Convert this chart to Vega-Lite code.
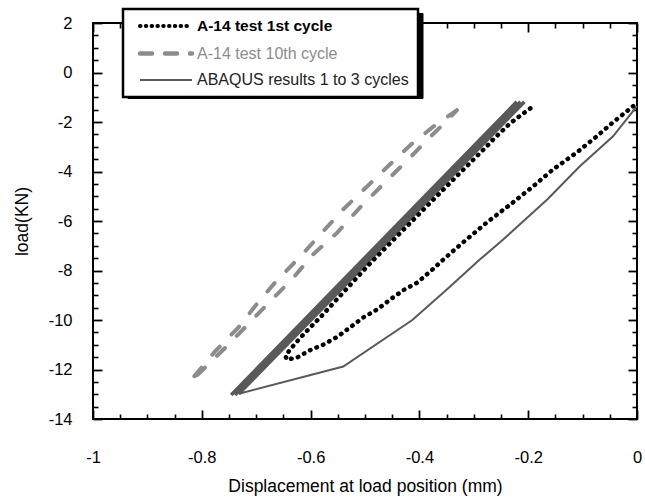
{
  "$schema": "https://vega.github.io/schema/vega-lite/v6.json",
  "width": 544,
  "height": 396,
  "autosize": "none",
  "padding": {"left": 93, "top": 23, "right": 8, "bottom": 84},
  "background": "white",
  "config": {
    "view": {"stroke": "black", "strokeWidth": 2},
    "font": "Liberation Sans",
    "axis": {"grid": false, "domain": false, "tickColor": "black", "labelColor": "black", "titleColor": "black", "labelFont": "Liberation Sans", "titleFont": "Liberation Sans", "titleFontWeight": "normal", "labelFlush": false, "labelOverlap": false}
  },
  "data": {"values": [
    {"part": "t1", "series": "A-14 test 1st cycle", "line": "t1", "order": 1, "x": -0.196, "y": -1.45},
    {"part": "t1", "series": "A-14 test 1st cycle", "line": "t1", "order": 2, "x": -0.215, "y": -1.75},
    {"part": "t1", "series": "A-14 test 1st cycle", "line": "t1", "order": 3, "x": -0.233, "y": -2.05},
    {"part": "t1", "series": "A-14 test 1st cycle", "line": "t1", "order": 4, "x": -0.265, "y": -2.72},
    {"part": "t1", "series": "A-14 test 1st cycle", "line": "t1", "order": 5, "x": -0.276, "y": -2.98},
    {"part": "t1", "series": "A-14 test 1st cycle", "line": "t1", "order": 6, "x": -0.35, "y": -4.6},
    {"part": "t1", "series": "A-14 test 1st cycle", "line": "t1", "order": 7, "x": -0.42, "y": -6.15},
    {"part": "t1", "series": "A-14 test 1st cycle", "line": "t1", "order": 8, "x": -0.49, "y": -7.7},
    {"part": "t1", "series": "A-14 test 1st cycle", "line": "t1", "order": 9, "x": -0.564, "y": -9.46},
    {"part": "t1", "series": "A-14 test 1st cycle", "line": "t1", "order": 10, "x": -0.583, "y": -9.91},
    {"part": "t1", "series": "A-14 test 1st cycle", "line": "t1", "order": 11, "x": -0.601, "y": -10.31},
    {"part": "t1", "series": "A-14 test 1st cycle", "line": "t1", "order": 12, "x": -0.619, "y": -10.72},
    {"part": "t1", "series": "A-14 test 1st cycle", "line": "t1", "order": 13, "x": -0.638, "y": -11.2},
    {"part": "t1", "series": "A-14 test 1st cycle", "line": "t1", "order": 14, "x": -0.646, "y": -11.45},
    {"part": "t1", "series": "A-14 test 1st cycle", "line": "t1", "order": 15, "x": -0.644, "y": -11.6},
    {"part": "t1", "series": "A-14 test 1st cycle", "line": "t1", "order": 16, "x": -0.625, "y": -11.52},
    {"part": "t1", "series": "A-14 test 1st cycle", "line": "t1", "order": 17, "x": -0.601, "y": -11.22},
    {"part": "t1", "series": "A-14 test 1st cycle", "line": "t1", "order": 18, "x": -0.577, "y": -11.0},
    {"part": "t1", "series": "A-14 test 1st cycle", "line": "t1", "order": 19, "x": -0.551, "y": -10.68},
    {"part": "t1", "series": "A-14 test 1st cycle", "line": "t1", "order": 20, "x": -0.528, "y": -10.31},
    {"part": "t1", "series": "A-14 test 1st cycle", "line": "t1", "order": 21, "x": -0.504, "y": -9.91},
    {"part": "t1", "series": "A-14 test 1st cycle", "line": "t1", "order": 22, "x": -0.478, "y": -9.58},
    {"part": "t1", "series": "A-14 test 1st cycle", "line": "t1", "order": 23, "x": -0.454, "y": -9.18},
    {"part": "t1", "series": "A-14 test 1st cycle", "line": "t1", "order": 24, "x": -0.43, "y": -8.8},
    {"part": "t1", "series": "A-14 test 1st cycle", "line": "t1", "order": 25, "x": -0.404, "y": -8.49},
    {"part": "t1", "series": "A-14 test 1st cycle", "line": "t1", "order": 26, "x": -0.378, "y": -8.0},
    {"part": "t1", "series": "A-14 test 1st cycle", "line": "t1", "order": 27, "x": -0.35, "y": -7.44},
    {"part": "t1", "series": "A-14 test 1st cycle", "line": "t1", "order": 28, "x": -0.32, "y": -6.87},
    {"part": "t1", "series": "A-14 test 1st cycle", "line": "t1", "order": 29, "x": -0.276, "y": -6.06},
    {"part": "t1", "series": "A-14 test 1st cycle", "line": "t1", "order": 30, "x": -0.228, "y": -5.25},
    {"part": "t1", "series": "A-14 test 1st cycle", "line": "t1", "order": 31, "x": -0.191, "y": -4.6},
    {"part": "t1", "series": "A-14 test 1st cycle", "line": "t1", "order": 32, "x": -0.154, "y": -3.91},
    {"part": "t1", "series": "A-14 test 1st cycle", "line": "t1", "order": 33, "x": -0.11, "y": -3.22},
    {"part": "t1", "series": "A-14 test 1st cycle", "line": "t1", "order": 34, "x": -0.074, "y": -2.58},
    {"part": "t1", "series": "A-14 test 1st cycle", "line": "t1", "order": 35, "x": -0.044, "y": -2.01},
    {"part": "t1", "series": "A-14 test 1st cycle", "line": "t1", "order": 36, "x": -0.007, "y": -1.36},

    {"part": "t10", "series": "A-14 test 10th cycle", "line": "t10", "order": 1, "x": -0.331, "y": -1.52},
    {"part": "t10", "series": "A-14 test 10th cycle", "line": "t10", "order": 2, "x": -0.375, "y": -2.2},
    {"part": "t10", "series": "A-14 test 10th cycle", "line": "t10", "order": 3, "x": -0.415, "y": -2.9},
    {"part": "t10", "series": "A-14 test 10th cycle", "line": "t10", "order": 4, "x": -0.454, "y": -3.71},
    {"part": "t10", "series": "A-14 test 10th cycle", "line": "t10", "order": 5, "x": -0.496, "y": -4.6},
    {"part": "t10", "series": "A-14 test 10th cycle", "line": "t10", "order": 6, "x": -0.54, "y": -5.53},
    {"part": "t10", "series": "A-14 test 10th cycle", "line": "t10", "order": 7, "x": -0.579, "y": -6.47},
    {"part": "t10", "series": "A-14 test 10th cycle", "line": "t10", "order": 8, "x": -0.619, "y": -7.44},
    {"part": "t10", "series": "A-14 test 10th cycle", "line": "t10", "order": 9, "x": -0.662, "y": -8.4},
    {"part": "t10", "series": "A-14 test 10th cycle", "line": "t10", "order": 10, "x": -0.697, "y": -9.3},
    {"part": "t10", "series": "A-14 test 10th cycle", "line": "t10", "order": 11, "x": -0.733, "y": -10.31},
    {"part": "t10", "series": "A-14 test 10th cycle", "line": "t10", "order": 12, "x": -0.776, "y": -11.28},
    {"part": "t10", "series": "A-14 test 10th cycle", "line": "t10", "order": 13, "x": -0.812, "y": -12.22},
    {"part": "t10", "series": "A-14 test 10th cycle", "line": "t10", "order": 14, "x": -0.822, "y": -12.5},
    {"part": "t10", "series": "A-14 test 10th cycle", "line": "t10", "order": 15, "x": -0.798, "y": -12.01},
    {"part": "t10", "series": "A-14 test 10th cycle", "line": "t10", "order": 16, "x": -0.757, "y": -11.12},
    {"part": "t10", "series": "A-14 test 10th cycle", "line": "t10", "order": 17, "x": -0.721, "y": -10.31},
    {"part": "t10", "series": "A-14 test 10th cycle", "line": "t10", "order": 18, "x": -0.675, "y": -9.26},
    {"part": "t10", "series": "A-14 test 10th cycle", "line": "t10", "order": 19, "x": -0.634, "y": -8.35},
    {"part": "t10", "series": "A-14 test 10th cycle", "line": "t10", "order": 20, "x": -0.596, "y": -7.36},
    {"part": "t10", "series": "A-14 test 10th cycle", "line": "t10", "order": 21, "x": -0.551, "y": -6.47},
    {"part": "t10", "series": "A-14 test 10th cycle", "line": "t10", "order": 22, "x": -0.509, "y": -5.45},
    {"part": "t10", "series": "A-14 test 10th cycle", "line": "t10", "order": 23, "x": -0.467, "y": -4.52},
    {"part": "t10", "series": "A-14 test 10th cycle", "line": "t10", "order": 24, "x": -0.42, "y": -3.5},
    {"part": "t10", "series": "A-14 test 10th cycle", "line": "t10", "order": 25, "x": -0.381, "y": -2.62},
    {"part": "t10", "series": "A-14 test 10th cycle", "line": "t10", "order": 26, "x": -0.345, "y": -1.85},
    {"part": "t10", "series": "A-14 test 10th cycle", "line": "t10", "order": 27, "x": -0.331, "y": -1.52},

    {"part": "band", "series": "ABAQUS results 1 to 3 cycles", "line": "c1", "order": 1, "x": -0.746, "y": -13.03},
    {"part": "band", "series": "ABAQUS results 1 to 3 cycles", "line": "c1", "order": 2, "x": -0.221, "y": -1.18},
    {"part": "band", "series": "ABAQUS results 1 to 3 cycles", "line": "c2", "order": 1, "x": -0.739, "y": -13.03},
    {"part": "band", "series": "ABAQUS results 1 to 3 cycles", "line": "c2", "order": 2, "x": -0.214, "y": -1.18},
    {"part": "band", "series": "ABAQUS results 1 to 3 cycles", "line": "c3", "order": 1, "x": -0.732, "y": -12.98},
    {"part": "band", "series": "ABAQUS results 1 to 3 cycles", "line": "c3", "order": 2, "x": -0.207, "y": -1.18},

    {"part": "ret", "series": "ABAQUS results 1 to 3 cycles", "line": "ret", "order": 1, "x": -0.732, "y": -12.98},
    {"part": "ret", "series": "ABAQUS results 1 to 3 cycles", "line": "ret", "order": 2, "x": -0.54, "y": -11.88},
    {"part": "ret", "series": "ABAQUS results 1 to 3 cycles", "line": "ret", "order": 3, "x": -0.413, "y": -10.0},
    {"part": "ret", "series": "ABAQUS results 1 to 3 cycles", "line": "ret", "order": 4, "x": -0.347, "y": -8.72},
    {"part": "ret", "series": "ABAQUS results 1 to 3 cycles", "line": "ret", "order": 5, "x": -0.289, "y": -7.56},
    {"part": "ret", "series": "ABAQUS results 1 to 3 cycles", "line": "ret", "order": 6, "x": -0.246, "y": -6.75},
    {"part": "ret", "series": "ABAQUS results 1 to 3 cycles", "line": "ret", "order": 7, "x": -0.165, "y": -5.13},
    {"part": "ret", "series": "ABAQUS results 1 to 3 cycles", "line": "ret", "order": 8, "x": -0.105, "y": -3.79},
    {"part": "ret", "series": "ABAQUS results 1 to 3 cycles", "line": "ret", "order": 9, "x": -0.044, "y": -2.58},
    {"part": "ret", "series": "ABAQUS results 1 to 3 cycles", "line": "ret", "order": 10, "x": 0.0, "y": -1.36}
  ]},
  "resolve": {"axis": {"x": "independent", "y": "independent"}},
  "layer": [
    {
      "transform": [{"filter": "datum.part === 't10'"}],
      "mark": {"type": "line", "strokeWidth": 4, "strokeCap": "round", "strokeDash": [11, 17]},
      "encoding": {
        "x": {"field": "x", "type": "quantitative", "scale": {"domain": [-1, 0], "nice": false, "zero": false},
          "axis": {"orient": "bottom", "values": [-0.95, -0.9, -0.85, -0.75, -0.7, -0.65, -0.55, -0.5, -0.45, -0.35, -0.3, -0.25, -0.15, -0.1, -0.05], "tickSize": -5, "tickWidth": 1.6, "labels": false, "title": null}},
        "y": {"field": "y", "type": "quantitative", "scale": {"domain": [-14, 2], "nice": false, "zero": false},
          "axis": {"orient": "left", "values": [1.5, 1, 0.5, -0.5, -1, -1.5, -2.5, -3, -3.5, -4.5, -5, -5.5, -6.5, -7, -7.5, -8.5, -9, -9.5, -10.5, -11, -11.5, -12.5, -13, -13.5], "tickSize": -5, "tickWidth": 1.6, "labels": false, "title": null}},
        "color": {"field": "series", "type": "nominal"},
        "detail": {"field": "line"},
        "order": {"field": "order", "type": "quantitative"}
      }
    },
    {
      "transform": [{"filter": "datum.part === 'band'"}],
      "mark": {"type": "line", "strokeWidth": 3.5},
      "encoding": {
        "x": {"field": "x", "type": "quantitative", "scale": {"domain": [-1, 0], "nice": false, "zero": false},
          "axis": {"orient": "top", "values": [-1, -0.8, -0.6, -0.4, -0.2, 0], "tickSize": -9, "tickWidth": 1.8, "labels": false, "title": null}},
        "y": {"field": "y", "type": "quantitative", "scale": {"domain": [-14, 2], "nice": false, "zero": false},
          "axis": {"orient": "right", "values": [2, 0, -2, -4, -6, -8, -10, -12, -14], "tickSize": -9, "tickWidth": 1.8, "labels": false, "title": null}},
        "color": {"field": "series", "type": "nominal"},
        "detail": {"field": "line"},
        "order": {"field": "order", "type": "quantitative"}
      }
    },
    {
      "transform": [{"filter": "datum.part === 'ret'"}],
      "mark": {"type": "line", "strokeWidth": 2},
      "encoding": {
        "x": {"field": "x", "type": "quantitative", "scale": {"domain": [-1, 0], "nice": false, "zero": false},
          "axis": {"orient": "top", "values": [-0.95, -0.9, -0.85, -0.75, -0.7, -0.65, -0.55, -0.5, -0.45, -0.35, -0.3, -0.25, -0.15, -0.1, -0.05], "tickSize": -5, "tickWidth": 1.6, "labels": false, "title": null}},
        "y": {"field": "y", "type": "quantitative", "scale": {"domain": [-14, 2], "nice": false, "zero": false},
          "axis": {"orient": "right", "values": [1.5, 1, 0.5, -0.5, -1, -1.5, -2.5, -3, -3.5, -4.5, -5, -5.5, -6.5, -7, -7.5, -8.5, -9, -9.5, -10.5, -11, -11.5, -12.5, -13, -13.5], "tickSize": -5, "tickWidth": 1.6, "labels": false, "title": null}},
        "color": {"field": "series", "type": "nominal"},
        "detail": {"field": "line"},
        "order": {"field": "order", "type": "quantitative"}
      }
    },
    {
      "transform": [{"filter": "datum.order === 1"}],
      "mark": {"type": "point", "opacity": 0, "filled": true},
      "encoding": {
        "x": {"field": "x", "type": "quantitative", "scale": {"domain": [-1, 0], "nice": false, "zero": false}, "axis": null},
        "y": {"field": "y", "type": "quantitative", "scale": {"domain": [-14, 2], "nice": false, "zero": false}, "axis": null},
        "fill": {"field": "series", "type": "nominal", "scale": {"range": ["black", "black", "black"]},
          "legend": {"orient": "none", "legendX": 34.5, "legendY": -10, "zindex": 0, "title": null, "symbolType": "stroke", "symbolSize": 16, "symbolStrokeWidth": 3, "symbolOffset": 26, "labelFontSize": 16, "labelFont": "Liberation Sans", "labelOffset": 23, "labelLimit": 400, "padding": 9, "rowPadding": 9.5, "strokeColor": "black", "fillColor": "black",
            "encode": {
              "symbols": {"update": {"opacity": {"value": 0}}},
              "labels": {"update": {"opacity": {"value": 0}}}
            }
          }
        }
      }
    },
    {
      "transform": [{"filter": "datum.part === 't1'"}],
      "mark": {"type": "line", "strokeWidth": 4.5, "strokeCap": "round", "strokeDash": [0.5, 6.5]},
      "encoding": {
        "x": {"field": "x", "type": "quantitative", "scale": {"domain": [-1, 0], "nice": false, "zero": false},
          "axis": {"orient": "bottom", "values": [-1, -0.8, -0.6, -0.4, -0.2, 0], "tickSize": -9, "tickWidth": 1.8, "labelFontSize": 16.5, "labelPadding": 39, "labelExpr": "'' + datum.value", "title": "Displacement at load position (mm)", "titleFontSize": 17.5, "titlePadding": 12}},
        "y": {"field": "y", "type": "quantitative", "scale": {"domain": [-14, 2], "nice": false, "zero": false},
          "axis": {"orient": "left", "values": [2, 0, -2, -4, -6, -8, -10, -12, -14], "tickSize": -9, "tickWidth": 1.8, "labelFontSize": 16.5, "labelPadding": 30, "labelExpr": "'' + datum.value", "title": "load(KN)", "titleFontSize": 17.5, "titlePadding": 17}},
        "color": {"field": "series", "type": "nominal",
          "scale": {"domain": ["A-14 test 1st cycle", "A-14 test 10th cycle", "ABAQUS results 1 to 3 cycles"], "range": ["#000000", "#8c8c8c", "#595959"]},
          "legend": {"orient": "none", "legendX": 30, "legendY": -14, "zindex": 1, "title": null, "symbolType": "stroke", "symbolSize": 2704, "symbolStrokeWidth": 3, "symbolOffset": 26, "labelFontSize": 16, "labelFont": "Liberation Sans", "labelOffset": 23, "labelLimit": 400, "padding": 9, "rowPadding": 9.5, "strokeColor": "black", "fillColor": "white",
            "encode": {
              "legend": {"update": {"strokeWidth": {"value": 2.5}}},
              "symbols": {"update": {
                "strokeDash": {"signal": "datum.value === 'A-14 test 1st cycle' ? [0.5, 5.3] : datum.value === 'A-14 test 10th cycle' ? [12, 13] : [1, 0]"},
                "strokeWidth": {"signal": "datum.value === 'A-14 test 1st cycle' ? 4 : datum.value === 'A-14 test 10th cycle' ? 4.5 : 2"},
                "strokeCap": {"signal": "datum.value === 'ABAQUS results 1 to 3 cycles' ? 'butt' : 'round'"}
              }},
              "labels": {"update": {
                "fill": {"signal": "datum.value === 'A-14 test 10th cycle' ? '#8c8c8c' : datum.value === 'A-14 test 1st cycle' ? '#000000' : '#222222'"},
                "fontWeight": {"signal": "datum.value === 'A-14 test 1st cycle' ? 'bold' : 'normal'"},
                "fontSize": {"signal": "datum.value === 'A-14 test 1st cycle' ? 15.5 : 16"}
              }}
            }
          }
        },
        "detail": {"field": "line"},
        "order": {"field": "order", "type": "quantitative"}
      }
    }
  ]
}
